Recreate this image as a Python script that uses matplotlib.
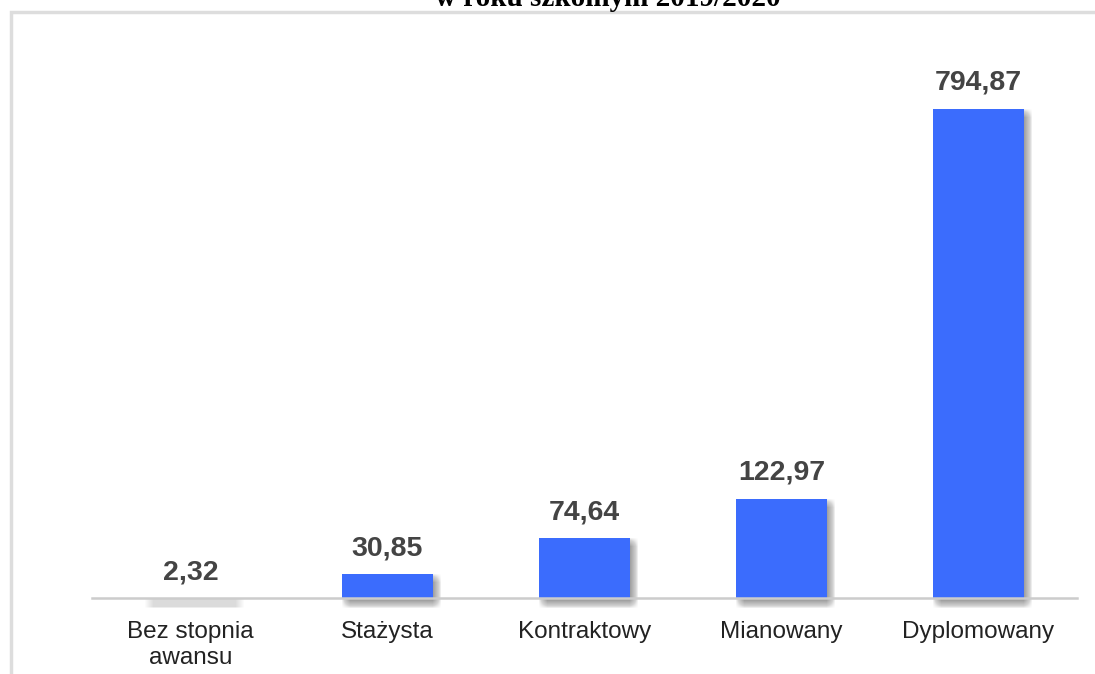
import matplotlib
matplotlib.use("Agg")
import matplotlib.pyplot as plt
import matplotlib.transforms as mtransforms
from matplotlib.patches import Rectangle
import numpy as np

categories = ["Bez stopnia\nawansu", "Stażysta", "Kontraktowy", "Mianowany", "Dyplomowany"]
values = [2.32, 30.85, 74.64, 122.97, 794.87]
value_labels = ["2,32", "30,85", "74,64", "122,97", "794,87"]
title_text = "w roku szkolnym 2019/2020"

BAR_COLOR = "#3b6cfd"
LABEL_COLOR = "#444444"

# compressed-top scale (the reference chart squeezes the tallest bar)
BREAK = 130.0
K = 0.70


def fwd(v):
    v = np.asarray(v, dtype=float)
    return np.where(v <= BREAK, v, BREAK + (v - BREAK) * K)


def inv(t):
    t = np.asarray(t, dtype=float)
    return np.where(t <= BREAK, t, BREAK + (t - BREAK) / K)


W, H, DPI = 1095, 674, 100
fig = plt.figure(figsize=(W / DPI, H / DPI), dpi=DPI)
fig.patch.set_facecolor("white")

ax_left, ax_right = 92, 1077
ax_base, ax_top = 597.5, 60
ax = fig.add_axes([ax_left / W, (H - ax_base) / H,
                   (ax_right - ax_left) / W, (ax_base - ax_top) / H])
ax.set_yscale("function", functions=(fwd, inv))

ymin = 2.97
px_per_unit = 0.825
t_top = fwd(ymin) + (ax_base - ax_top) / px_per_unit
ymax = float(inv(t_top))
ax.set_ylim(ymin, ymax)
ax.set_xlim(-0.5, len(categories) - 0.5)

x = np.arange(len(categories))
bw = 0.457

# soft (blurred) drop shadows
for dx in range(0, 9):
    for dy in range(0, 9):
        tr = mtransforms.offset_copy(ax.transData, fig=fig, x=dx, y=-dy, units="dots")
        bars = ax.bar(x, values, width=bw, color="#555555", alpha=0.008,
                      linewidth=0, transform=tr, zorder=1)
        for b in bars:
            b.set_clip_on(False)

ax.bar(x, values, width=bw, color=BAR_COLOR, linewidth=0, zorder=3)

for xi, v, lab in zip(x, values, value_labels):
    ax.annotate(lab, (xi, v), xytext=(0, 19 * 72 / DPI), textcoords="offset points",
                ha="center", va="baseline", fontsize=20.5, fontweight="bold",
                color=LABEL_COLOR, family="Liberation Sans", annotation_clip=False,
                zorder=5)

for s in ["top", "right", "left"]:
    ax.spines[s].set_visible(False)
ax.spines["bottom"].set_color("#cccccc")
ax.spines["bottom"].set_linewidth(1.8)
ax.spines["bottom"].set_zorder(4)
ax.set_yticks([])
ax.set_xticks(x)
ax.set_xticklabels(categories, fontsize=17.5, family="Liberation Sans",
                   color="#222222", linespacing=1.2)
ax.tick_params(axis="x", length=0, pad=17)
ax.set_facecolor("none")

# outer frame (partly visible)
fig.patches.append(Rectangle((10.5 / W, -0.1), 1.2, 1 - 12 / H + 0.1,
                             transform=fig.transFigure, fill=False,
                             edgecolor="#dddddd", linewidth=2.5, zorder=0))

# cut-off title at the very top (as in the reference)
fig.text(608 / W, 1 - 6 / H, title_text, ha="center", va="baseline",
         fontsize=21, fontweight="bold", family="Liberation Serif", color="black")

fig.savefig("out.png", dpi=DPI, facecolor="white")
